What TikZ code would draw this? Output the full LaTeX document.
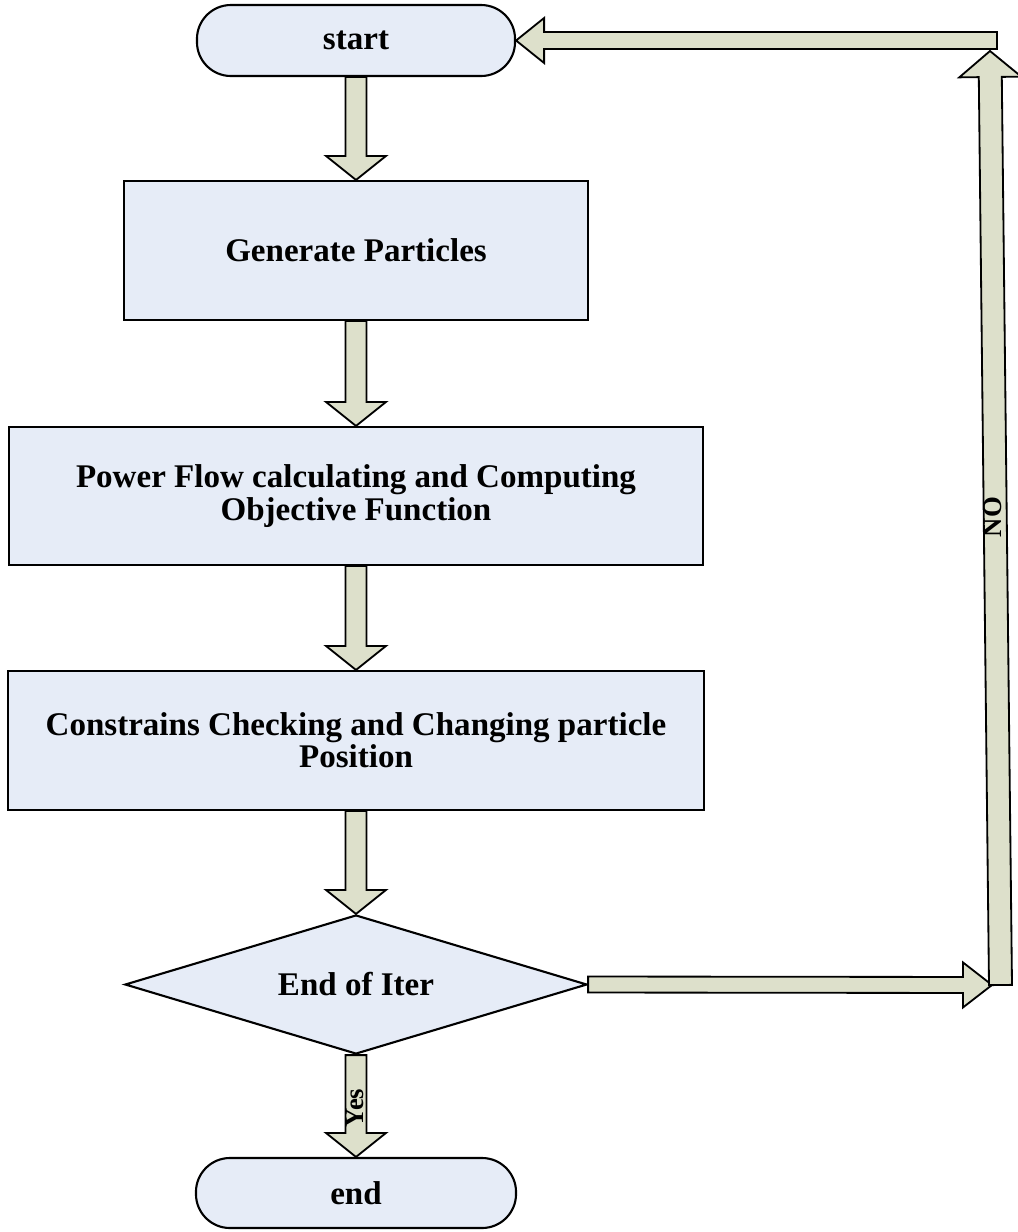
\documentclass[tikz,border=0pt]{standalone}
\usepackage{fontspec}
\setmainfont{Liberation Serif}
\usetikzlibrary{calc,shapes.geometric}
\definecolor{boxfill}{RGB}{230,236,247}
\definecolor{arrfill}{RGB}{221,224,203}
% #1 from, #2 to (tip), #3 half shaft, #4 half head, #5 head length
\newcommand{\blockarrow}[5]{%
  \coordinate (bah) at ($(#2)!#5!(#1)$);
  \draw[blk] ($(#1)!#3!90:(#2)$) -- ($(bah)!#3!90:(#2)$) -- ($(bah)!#4!90:(#2)$) -- (#2)
     -- ($(bah)!#4!-90:(#2)$) -- ($(bah)!#3!-90:(#2)$) -- ($(#1)!#3!-90:(#2)$) -- cycle;}
\begin{document}
\begin{tikzpicture}[x=0.025cm,y=-0.025cm,
  blk/.style={draw=black, fill=arrfill, line width=1.3pt, line join=miter},
  box/.style={draw=black, fill=boxfill, line width=1.5pt, inner sep=0pt, align=center,
              font=\fontsize{23.5}{23}\selectfont\bfseries},
  term/.style={box, rounded corners=0.85cm},
  lbl/.style={inner sep=0pt, font=\fontsize{19}{19}\selectfont\bfseries}]
\useasboundingbox (0,0) rectangle (1018,1232);

\node[term, minimum width=7.95cm, minimum height=1.775cm] (start) at (356,40.5) {start};
\node[box, minimum width=11.575cm, minimum height=3.475cm] (gen) at (356,250.5) {Generate Particles};
\node[box, minimum width=17.35cm, minimum height=3.45cm] (pf) at (356,496)
  {Power Flow calculating and Computing\\Objective Function};
\node[box, minimum width=17.375cm, minimum height=3.475cm] (cc) at (356,740.5)
  {Constrains Checking and Changing particle\\Position};
\node[box, shape=diamond, aspect=3.3, minimum width=11.55cm, minimum height=3.475cm] (dec) at (356,984.5) {End of Iter};
\node[term, minimum width=8cm, minimum height=1.75cm] (end) at (356,1193) {end};

\coordinate (rt) at (992,985);
\coordinate (upb) at (1000.5,985);
\coordinate (upt) at (990,51);
\coordinate (lt) at (997,40.5);

\blockarrow{start.south}{gen.north}{0.2625cm}{0.75cm}{0.6cm}
\blockarrow{gen.south}{pf.north}{0.2625cm}{0.75cm}{0.6cm}
\blockarrow{pf.south}{cc.north}{0.2625cm}{0.75cm}{0.6cm}
\blockarrow{cc.south}{dec.north}{0.2625cm}{0.75cm}{0.6cm}
\blockarrow{dec.south}{end.north}{0.2625cm}{0.75cm}{0.6cm}
\blockarrow{dec.east}{rt}{0.2cm}{0.5625cm}{0.725cm}
\blockarrow{upb}{upt}{0.2875cm}{0.775cm}{0.65cm}
\blockarrow{lt}{start.east}{0.2125cm}{0.5625cm}{0.7cm}

\node[lbl, rotate=90] (no) at (993,517) {NO};
\node[lbl, rotate=90] (yes) at (355,1108) {Yes};
\end{tikzpicture}
\end{document}
